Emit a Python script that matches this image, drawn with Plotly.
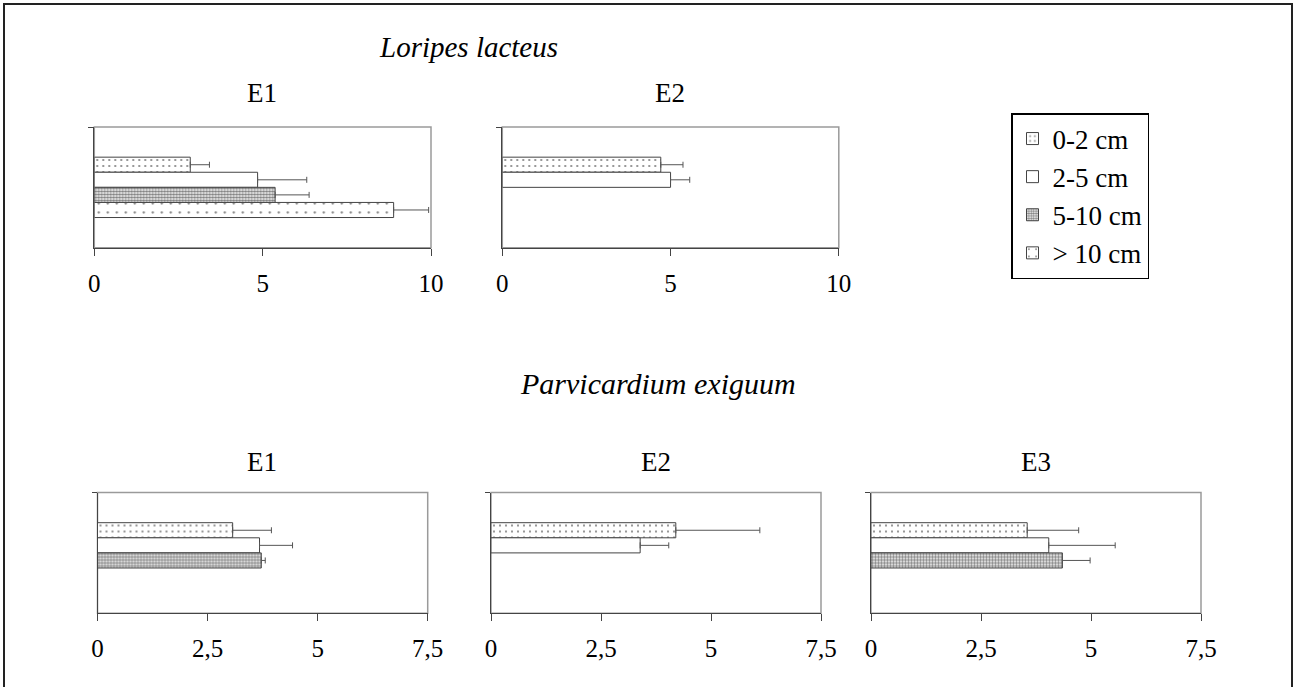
import plotly.graph_objects as go

# ---------------- data ----------------
panels = ["L_E1", "L_E2", "P_E1", "P_E2", "P_E3"]
panel_titles = ["E1", "E2", "E1", "E2", "E3"]
species = ["Loripes lacteus", "Parvicardium exiguum"]
series = ["0-2 cm", "2-5 cm", "5-10 cm", "> 10 cm"]

mean_0_2 = [2.85, 4.71, 3.07, 4.20, 3.55]
mean_2_5 = [4.85, 5.00, 3.68, 3.39, 4.04]
mean_5_10 = [5.37, None, 3.72, None, 4.35]
mean_gt10 = [8.89, None, None, None, None]

sd_0_2 = [0.57, 0.66, 0.88, 1.91, 1.17]
sd_2_5 = [1.46, 0.57, 0.75, 0.65, 1.51]
sd_5_10 = [1.01, None, 0.09, None, 0.63]
sd_gt10 = [1.04, None, None, None, None]

top_ticks = [0, 5, 10]
bottom_ticks = [0, 2.5, 5, 7.5]

means = [mean_0_2, mean_2_5, mean_5_10, mean_gt10]
sds = [sd_0_2, sd_2_5, sd_5_10, sd_gt10]

# ---------------- styles ----------------
W, H = 1297, 687
FONT = "Liberation Serif"
patterns = [
    dict(shape=".", size=6, solidity=0.1, fgcolor="black", bgcolor="white", fillmode="overlay"),
    dict(shape="", bgcolor="white"),
    dict(shape=".", size=3, solidity=0.6, fgcolor="black", bgcolor="white", fillmode="overlay"),
    dict(shape=".", size=9, solidity=0.05, fgcolor="black", bgcolor="white", fillmode="overlay"),
]

def px_x(p):
    return p / W

def px_y(p):
    return 1 - p / H

boxes = [
    (94.3, 431.0, 127.0, 247.7),
    (502.3, 838.8, 127.0, 247.7),
    (97.5, 427.7, 492.5, 613.3),
    (491.0, 821.0, 492.5, 613.3),
    (871.0, 1201.0, 492.5, 613.3),
]
xranges = [[0, 10], [0, 10], [0, 7.5], [0, 7.5], [0, 7.5]]
xticks = [top_ticks, top_ticks, bottom_ticks, bottom_ticks, bottom_ticks]

fig = go.Figure()

for p in range(len(panels)):
    xa = "x" if p == 0 else f"x{p+1}"
    ya = "y" if p == 0 else f"y{p+1}"
    for s in range(len(series)):
        v = means[s][p]
        e = sds[s][p]
        fig.add_trace(go.Bar(
            x=[v], y=["n"], orientation="h",
            name=series[s], legendgroup=series[s], showlegend=(p == 0),
            xaxis=xa, yaxis=ya,
            marker=dict(color="white", pattern=patterns[s],
                        line=dict(color="#444444", width=1)),
            error_x=dict(type="data", symmetric=False,
                         array=[e], arrayminus=[0],
                         color="#555555", thickness=1, width=3),
        ))

layout = dict(
    width=W, height=H,
    margin=dict(l=0, r=0, t=0, b=0, pad=0, autoexpand=False),
    paper_bgcolor="white", plot_bgcolor="white",
    barmode="group", bargap=0.5, bargroupgap=0,
    separators=",.",
    font=dict(family=FONT, size=25, color="black"),
    legend=dict(
        x=px_x(1011), y=px_y(113), xanchor="left", yanchor="top",
        bordercolor="black", borderwidth=1.5, bgcolor="white",
        font=dict(family=FONT, size=27, color="black"),
        traceorder="normal",
    ),
    showlegend=True,
)

shapes = []
for p, (l, r, t, b) in enumerate(boxes):
    sfx = "" if p == 0 else str(p + 1)
    layout["xaxis" + sfx] = dict(
        domain=[px_x(l), px_x(r)], anchor="y" + sfx,
        range=xranges[p], tickvals=xticks[p],
        showgrid=False, zeroline=False, automargin=False,
        showline=True, linecolor="#444444", linewidth=1,
        ticks="outside", ticklen=7, tickcolor="#444444",
        tickfont=dict(family=FONT, size=25, color="black"),
        ticklabelstandoff=6,
        fixedrange=True,
    )
    layout["yaxis" + sfx] = dict(
        domain=[px_y(b), px_y(t)], anchor="x" + sfx,
        type="category", autorange="reversed", automargin=False,
        showgrid=False, zeroline=False,
        showline=True, linecolor="#444444", linewidth=1,
        ticks="outside", tickson="boundaries", ticklen=5, tickcolor="#444444",
        showticklabels=False, fixedrange=True,
    )
    shapes.append(dict(
        type="rect", xref=f"x{sfx} domain", yref=f"y{sfx} domain",
        x0=0, x1=1, y0=0, y1=1, layer="below",
        line=dict(color="#9a9a9a", width=1.5),
    ))

shapes.append(dict(
    type="rect", xref="paper", yref="paper",
    x0=px_x(4), x1=px_x(1292), y0=-0.05, y1=px_y(4),
    line=dict(color="#222222", width=2), layer="above",
))
layout["shapes"] = shapes

annots = []
def add_text(txt, x, y, size=27):
    annots.append(dict(text=txt, x=px_x(x), y=px_y(y), xref="paper", yref="paper",
                       showarrow=False, xanchor="center", yanchor="middle",
                       font=dict(family=FONT, size=size, color="black")))

add_text("<i>" + species[0] + "</i>", 468, 47, 29)
add_text("<i>" + species[1] + "</i>", 658, 383, 30)
title_pos = [(262, 93), (670, 93), (262, 462), (656, 462), (1036, 462)]
for t, (x, y) in zip(panel_titles, title_pos):
    add_text(t, x, y)
layout["annotations"] = annots

fig.update_layout(**layout)
fig.write_html("out.html", config={"displayModeBar": False},
               post_script="document.body.style.margin='0';document.body.style.overflow='hidden';")
